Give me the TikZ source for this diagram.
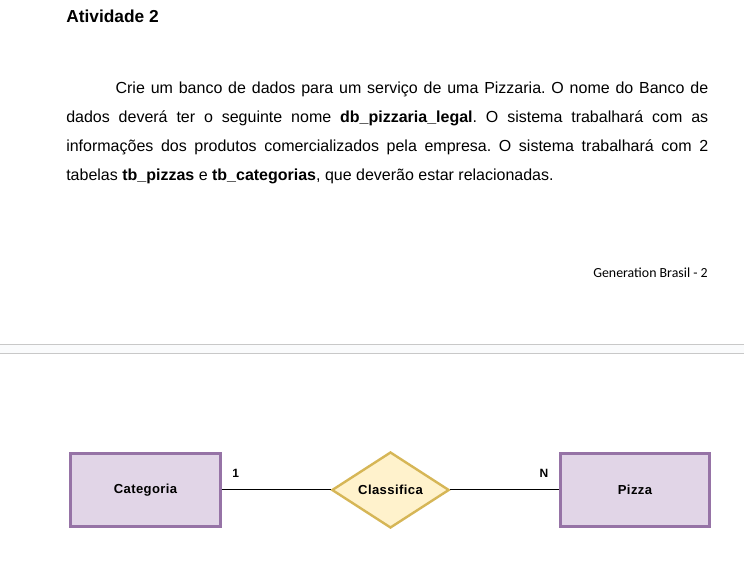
\documentclass[tikz,border=0pt]{standalone}
\usepackage{fontspec}
\setmainfont{Liberation Sans}
\newfontfamily\calibri{Carlito}
\newfontfamily\diagfont[LetterSpace=3]{Liberation Sans}
\usetikzlibrary{shapes.geometric}

\definecolor{entfill}{HTML}{E1D5E7}
\definecolor{entdraw}{HTML}{9673A6}
\definecolor{relfill}{HTML}{FFF2CC}
\definecolor{reldraw}{HTML}{D6B656}
\definecolor{pagegap}{HTML}{FAFBFC}
\definecolor{pageline}{HTML}{C8C8C8}

\begin{document}
\begin{tikzpicture}[
        x=0.75pt, y=-0.75pt,
        entity/.style={draw=entdraw, fill=entfill, line width=2.1pt,
                minimum width=112pt, minimum height=55pt,
                font=\diagfont\fontsize{9.8}{11}\selectfont\bfseries},
        relation/.style={diamond, draw=reldraw, fill=relfill, line width=1.8pt,
                minimum width=88pt, minimum height=57pt, inner sep=0pt,
                font=\diagfont\fontsize{9.8}{11}\selectfont\bfseries},
        card/.style={font=\fontsize{9}{11}\selectfont\bfseries},
        link/.style={line width=0.75pt}
        ]
        \useasboundingbox[fill=white] (0,0) rectangle (744,580);

        % page text
        \node[anchor=base west, inner sep=0pt, font=\fontsize{13}{15}\selectfont\bfseries]
                (title) at (66,23) {Atividade 2};
        \node[anchor=north west, inner sep=0pt, text width=481.5pt, align=justify,
                font=\fontsize{12}{21.75}\selectfont]
                (enunciado) at (66,81.5) {\frenchspacing\hyphenpenalty=10000\parindent=37pt\indent
                Crie um banco de dados para um serviço de uma Pizzaria. O nome do Banco de\linebreak
                dados deverá ter o seguinte nome \textbf{db\_pizzaria\_legal}. O sistema trabalhará com as\linebreak
                informações dos produtos comercializados pela empresa. O sistema trabalhará com 2\linebreak
                tabelas \textbf{tb\_pizzas} e \textbf{tb\_categorias}, que deverão estar relacionadas.};
        \node[anchor=base east, inner sep=0pt, font=\calibri\fontsize{10.4}{12}\selectfont]
                (rodape) at (708,278) {Generation Brasil - 2};

        % page break
        \fill[pagegap] (0,344.5) rectangle (744,353.5);
        \draw[pageline, line width=0.9pt] (0,344.5) -- (744,344.5);
        \draw[pageline, line width=0.9pt] (0,353.5) -- (744,353.5);

        % diagrama
        \node[entity] (categoria) at (145.5,490) {Categoria};
        \node[relation] (classifica) at (390.5,490) {Classifica};
        \node[entity] (pizza) at (635,490) {Pizza};

        \draw[link] (categoria) -- (classifica);
        \draw[link] (classifica) -- (pizza);

        \node[card, anchor=south west] (um) at ([shift={(6,-8)}]categoria.east) {1};
        \node[card, anchor=south east] (muitos) at ([shift={(-6,-8)}]pizza.west) {N};
\end{tikzpicture}
\end{document}
